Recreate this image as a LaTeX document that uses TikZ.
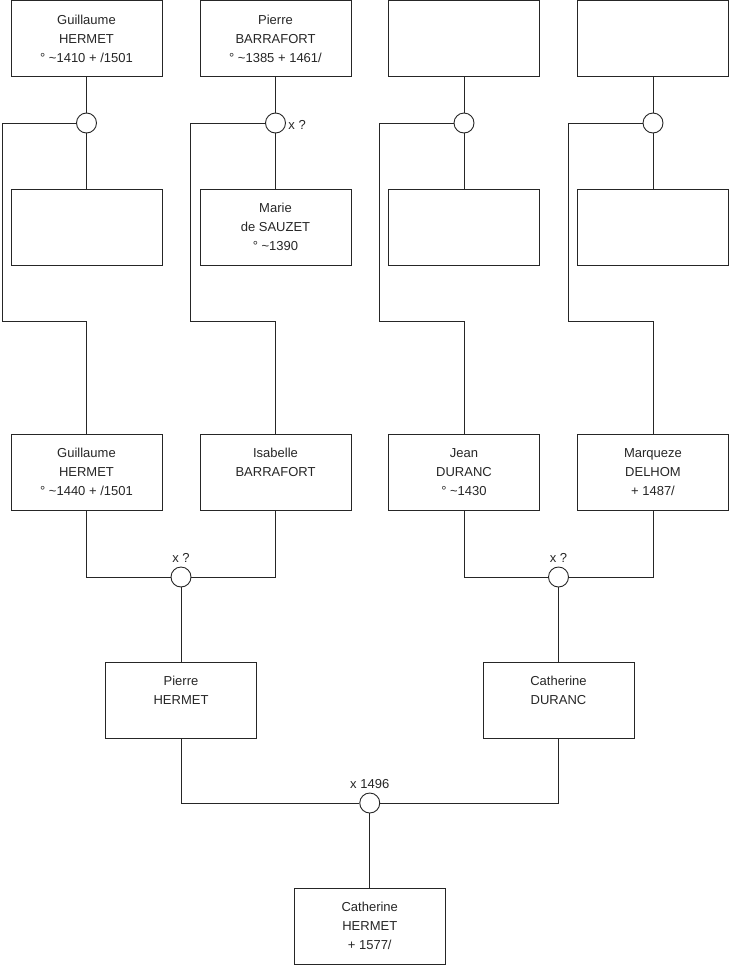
\documentclass[tikz,border=0pt]{standalone}
\usepackage{fontspec}
\setmainfont{Liberation Sans}
\usetikzlibrary{positioning}

\begin{document}
\begin{tikzpicture}[x=1pt, y=-1pt, line width=0.9pt, color=black!85,
	every node/.style={font=\fontsize{13}{19}\selectfont},
	person/.style={draw, minimum width=151pt, minimum height=76pt, align=center, inner sep=0pt},
	wed/.style={draw, circle, fill=white, minimum size=20pt, inner sep=0pt},
	tag/.style={inner sep=1pt}]
	\useasboundingbox (0,0) rectangle (740,975);
	\node[person] (g1) at (86.5,38.5) {Guillaume\\HERMET\\° \textasciitilde1410 + /1501};
	\node[person] (pb) at (275.5,38.5) {Pierre\\BARRAFORT\\° \textasciitilde1385 + 1461/};
	\node[person] (e1) at (464,38.5) {};
	\node[person] (e2) at (653,38.5) {};
	\node[wed] (m1) at (86.5,123) {};
	\node[wed] (m2) at (275.5,123) {};
	\node[wed] (m3) at (464,123) {};
	\node[wed] (m4) at (653,123) {};
	\node[tag, right=1pt of m2, yshift=-2pt] (t2) {x ?};
	\node[person] (e3) at (86.5,227) {};
	\node[person] (ms) at (275.5,227) {Marie\\de SAUZET\\° \textasciitilde1390};
	\node[person] (e4) at (464,227) {};
	\node[person] (e5) at (653,227) {};
	\coordinate (k1) at (2,321);
	\coordinate (k2) at (190,321);
	\coordinate (k3) at (379,321);
	\coordinate (k4) at (568,321);
	\node[person] (g2) at (86.5,472) {Guillaume\\HERMET\\° \textasciitilde1440 + /1501};
	\node[person] (ib) at (275.5,472) {Isabelle\\BARRAFORT\\\mbox{}};
	\node[person] (jd) at (464,472) {Jean\\DURANC\\° \textasciitilde1430};
	\node[person] (md) at (653,472) {Marqueze\\DELHOM\\ + 1487/};
	\node[wed] (m5) at (181,577) {};
	\node[wed] (m6) at (558.5,577) {};
	\node[tag, above=3pt of m5] (t5) {x ?};
	\node[tag, above=3pt of m6] (t6) {x ?};
	\node[person] (ph) at (181,700) {Pierre\\HERMET\\\mbox{}};
	\node[person] (cd) at (558.5,700) {Catherine\\DURANC\\\mbox{}};
	\node[wed] (m7) at (369.75,803) {};
	\node[tag, above=2pt of m7] (t7) {x 1496};
	\node[person] (ch) at (369.75,926) {Catherine\\HERMET\\ + 1577/};

	\draw (g1) -- (m1) -- (e3);
	\draw (pb) -- (m2) -- (ms);
	\draw (e1) -- (m3) -- (e4);
	\draw (e2) -- (m4) -- (e5);
	\draw (m1.west) -| (k1) -| (g2.north);
	\draw (m2.west) -| (k2) -| (ib.north);
	\draw (m3.west) -| (k3) -| (jd.north);
	\draw (m4.west) -| (k4) -| (md.north);
	\draw (g2) |- (m5);
	\draw (ib) |- (m5);
	\draw (m5) -- (ph);
	\draw (jd) |- (m6);
	\draw (md) |- (m6);
	\draw (m6) -- (cd);
	\draw (ph) |- (m7);
	\draw (cd) |- (m7);
	\draw (m7) -- (ch);
\end{tikzpicture}
\end{document}
